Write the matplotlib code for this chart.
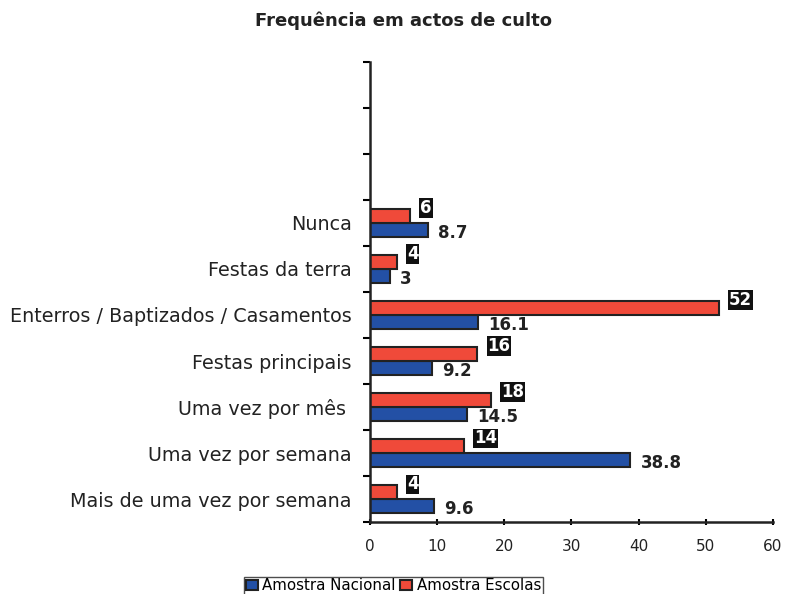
import matplotlib
matplotlib.use("Agg")
import matplotlib.pyplot as plt
import numpy as np

plt.rcParams['font.family'] = ['DejaVu Sans']

categories = ["Mais de uma vez por semana", "Uma vez por semana", "Uma vez por mês ",
              "Festas principais", "Enterros / Baptizados / Casamentos",
              "Festas da terra", "Nunca", "", "", ""]
nacional = [9.6, 38.8, 14.5, 9.2, 16.1, 3, 8.7]
escolas = [4, 14, 18, 16, 52, 4, 6]

blue = '#2350a5'
red = '#f04a3a'

fig = plt.figure(figsize=(7.87, 5.94), dpi=100)
ax = fig.add_axes([0.470, 0.121, 0.512, 0.775])

n = len(nacional)
y = np.arange(n)
h = 0.3
ax.barh(y - h / 2, nacional, height=h, color=blue, edgecolor='#222222', linewidth=1.5,
        label='Amostra Nacional')
ax.barh(y + h / 2, escolas, height=h, color=red, edgecolor='#222222', linewidth=1.5,
        label='Amostra Escolas')

for i in range(n):
    ax.text(nacional[i] + 1.5, y[i] - h / 2 - 0.06, f"{nacional[i]:g}", va='center', ha='left',
            fontsize=12, fontweight='bold', color='#222222')
    ax.text(escolas[i] + 1.5, y[i] + h / 2 + 0.17, f"{escolas[i]:g}", va='center', ha='left',
            fontsize=12, fontweight='bold', color='white',
            bbox=dict(boxstyle='square,pad=0.05', facecolor='#111111', edgecolor='none'))

ax.set_xlim(0, 60)
ax.set_ylim(-0.5, len(categories) - 0.5)
ax.set_xticks(range(0, 61, 10))
ax.tick_params(axis='x', length=5, width=1.5, direction='inout', labelsize=11, pad=10,
               labelcolor='#222222')
ax.set_yticks(np.arange(len(categories) + 1) - 0.5)
ax.set_yticklabels([])
ax.set_yticks(np.arange(len(categories)), minor=True)
ax.set_yticklabels(categories, minor=True, fontsize=13.8, color='#222222')
ax.tick_params(axis='y', which='minor', length=0, pad=13)
ax.tick_params(axis='y', which='major', length=5, width=1.5, direction='out')

for s in ['top', 'right']:
    ax.spines[s].set_visible(False)
for s in ['left', 'bottom']:
    ax.spines[s].set_linewidth(1.8)
    ax.spines[s].set_color('#222222')

fig.text(0.513, 0.965, "Frequência em actos de culto", ha='center', va='center',
         fontsize=13, fontweight='bold', color='#222222')

handles, labels = ax.get_legend_handles_labels()
leg = fig.legend(handles, labels, loc='center', bbox_to_anchor=(0.5, 0.014),
                 ncol=2, fontsize=10.8, frameon=True, fancybox=False, edgecolor='#222222',
                 handlelength=0.8, handleheight=0.7, handletextpad=0.3, columnspacing=0.3,
                 borderpad=0.1, borderaxespad=0)
leg.get_frame().set_linewidth(1.0)

fig.savefig("out.png", dpi=100)
